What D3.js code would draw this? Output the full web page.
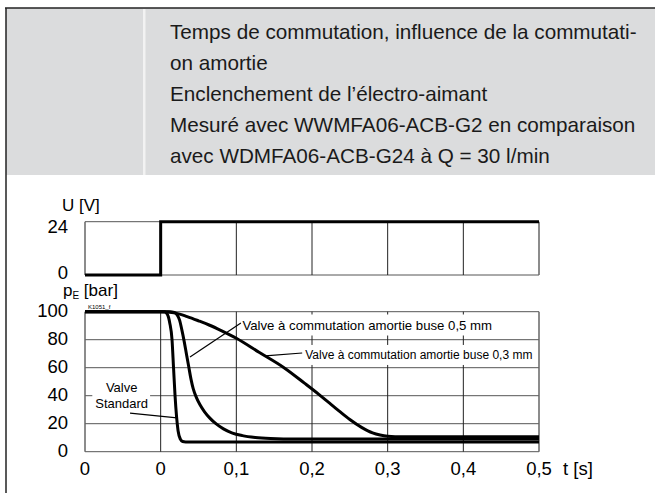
<!DOCTYPE html>
<html>
<head>
<meta charset="utf-8">
<script src="https://cdn.jsdelivr.net/npm/d3@7"></script>
<style>
  body { margin: 0; background: #fff; }
  svg { display: block; }
</style>
</head>
<body>
<div id="chart"></div>
<script>
// header text
const titleLines = [
    "Temps de commutation, influence de la commutati-",
    "on amortie",
    "Enclenchement de l\u2019électro-aimant",
    "Mesuré avec WWMFA06-ACB-G2 en comparaison",
    "avec WDMFA06-ACB-G24 à Q = 30 l/min"
];

// time axis (first "0" is the pre-trigger division)
const tTicks = [-0.1, 0, 0.1, 0.2, 0.3, 0.4, 0.5];
const tLabels = ["0", "0", "0,1", "0,2", "0,3", "0,4", "0,5"];
const uTicks = [0, 24];
const pTicks = [0, 20, 40, 60, 80, 100];

// voltage step
const voltT = [-0.1, 0, 0, 0.5];
const voltU = [0, 0, 24, 24];

// pressure curves
const standardT = [-0.1, 0, 0.005, 0.009, 0.012, 0.015, 0.017, 0.019, 0.021, 0.023, 0.026, 0.029, 0.033, 0.5];
const standardP = [100, 100, 100, 98, 92, 80, 60, 40, 25, 15, 9, 7.3, 7, 7];

const buse05T = [-0.1, 0, 0.012, 0.018, 0.022, 0.025, 0.028, 0.031, 0.034, 0.037, 0.04, 0.043, 0.047, 0.052, 0.058, 0.065, 0.073, 0.083, 0.094, 0.108, 0.125, 0.145, 0.18, 0.5];
const buse05P = [100, 100, 100, 99.5, 97.5, 94, 87, 79, 70, 61, 52, 45, 39, 33.5, 28.5, 24, 20, 16.3, 13.5, 11.5, 10.2, 9.5, 9.1, 9];

const buse03T = [-0.1, 0, 0.01, 0.02, 0.035, 0.05, 0.064, 0.08, 0.1, 0.13, 0.163, 0.19, 0.209, 0.222, 0.236, 0.25, 0.266, 0.28, 0.29, 0.3, 0.32, 0.5];
const buse03P = [100, 100, 99.8, 99, 96.5, 93.5, 90.5, 86.5, 81, 71, 60, 49, 41, 35.2, 29, 23, 17.2, 13.4, 11.9, 11.1, 10.7, 10.6];

const width = 655;
const height = 493;

const svg = d3.select('#chart').append('svg')
    .attr('width', width)
    .attr('height', height);

// ---- header block ----
svg.append('rect').attr('x', 6).attr('y', 8).attr('width', width - 6).attr('height', 167)
    .attr('fill', '#dbdcdd');
svg.append('rect').attr('x', 143).attr('y', 9).attr('width', 2.5).attr('height', 166)
    .attr('fill', '#f2f2f2');
svg.append('line').attr('x1', 5).attr('x2', width).attr('y1', 8).attr('y2', 8)
    .attr('stroke', '#222').attr('stroke-width', 1.5);
svg.append('line').attr('x1', 6).attr('x2', 6).attr('y1', 8).attr('y2', height)
    .attr('stroke', '#222').attr('stroke-width', 1.5);

const head = svg.append('g').attr('transform', 'translate(170,0)');
const headText = head.selectAll('text')
    .data(titleLines)
    .enter().append('text')
    .attr('y', (_, i) => 39 + i * 31)
    .attr('font-family', '"Liberation Sans", Arial, sans-serif')
    .attr('font-size', 20.5)
    .attr('fill', '#1a1a1a')
    .text(d => d);
// squeeze to the width of the longest printed line
const longest = d3.max(headText.nodes(), n => n.getComputedTextLength());
head.attr('transform', 'translate(170,0) scale(' + (467 / longest) + ',1)');

// ---- scales ----
const x = d3.scaleLinear().domain([-0.1, 0.5]).range([85, 539]);
const yU = d3.scaleLinear().domain([0, 24]).range([275, 221.7]);
const yP = d3.scaleLinear().domain([0, 100]).range([451.7, 311.7]);

const font = '"Liberation Sans", Arial, sans-serif';

function grid(g, yScale, hTicks) {
    // horizontal lines
    g.append('g').selectAll('line')
        .data(hTicks)
        .enter().append('line')
        .attr('x1', x(-0.1)).attr('x2', x(0.5))
        .attr('y1', d => yScale(d)).attr('y2', d => yScale(d))
        .attr('stroke', '#555').attr('stroke-width', 1);
    // vertical lines
    g.append('g').selectAll('line')
        .data(tTicks)
        .enter().append('line')
        .attr('x1', d => x(d)).attr('x2', d => x(d))
        .attr('y1', yScale.range()[0]).attr('y2', yScale.range()[1])
        .attr('stroke', (d, i) => (i === 0 || i === tTicks.length - 1) ? '#666' : '#222')
        .attr('stroke-width', (d, i) => (i === 0 || i === tTicks.length - 1) ? 1.5 : 1);
}

// ---- voltage panel ----
const gU = svg.append('g');
grid(gU, yU, uTicks);

gU.selectAll('text.ylab')
    .data(uTicks)
    .enter().append('text')
    .attr('class', 'ylab')
    .attr('x', 68)
    .attr('y', d => yU(d) + (d === 0 ? 3.5 : 11.5))
    .attr('text-anchor', 'end')
    .attr('font-family', font).attr('font-size', 18.5)
    .text(d => d);

svg.append('text').attr('x', 62).attr('y', 211)
    .attr('font-family', font).attr('font-size', 17)
    .text('U [V]');

const line = d3.line().x(d => x(d[0]));

svg.append('path')
    .datum(d3.zip(voltT, voltU))
    .attr('d', line.y(d => yU(d[1])))
    .attr('fill', 'none').attr('stroke', '#000').attr('stroke-width', 3);

// ---- pressure panel ----
const gP = svg.append('g');
grid(gP, yP, pTicks);

gP.selectAll('text.ylab')
    .data(pTicks)
    .enter().append('text')
    .attr('class', 'ylab')
    .attr('x', 68)
    .attr('y', d => yP(d) + 5.5)
    .attr('text-anchor', 'end')
    .attr('font-family', font).attr('font-size', 18.5)
    .text(d => d);

const pLab = svg.append('text').attr('x', 63).attr('y', 296)
    .attr('font-family', font).attr('font-size', 17);
pLab.append('tspan').text('p');
pLab.append('tspan').attr('font-size', 10).attr('dy', 3).text('E');
pLab.append('tspan').attr('dy', -3).text(' [bar]');

svg.append('text').attr('x', 88).attr('y', 308.5)
    .attr('font-family', font).attr('font-size', 6)
    .text('K1051_f');

// x axis labels
svg.append('g').selectAll('text')
    .data(tTicks)
    .enter().append('text')
    .attr('x', d => x(d))
    .attr('y', 475)
    .attr('text-anchor', 'middle')
    .attr('font-family', font).attr('font-size', 18.5)
    .text((_, i) => tLabels[i]);

svg.append('text').attr('x', 563).attr('y', 475)
    .attr('font-family', font).attr('font-size', 18.5)
    .text('t [s]');

// curve annotations: text lines, text anchor point (t, p), leader from / to, size
const notes = [
    { lines: ['Valve à commutation amortie buse 0,5 mm'], at: [0.108, 90.5], from: [0.0388, 67.6], to: [0.106, 91.9], anchor: 'start', size: 13.2 },
    { lines: ['Valve à commutation amortie buse 0,3 mm'], at: [0.191, 69.1], from: [0.138, 68.4], to: [0.187, 70.5], anchor: 'start', size: 12 },
    { lines: ['Valve', 'Standard'], at: [-0.0515, 46], from: [-0.0405, 27.6], to: [0.0216, 24.1], anchor: 'middle', size: 13 }
];

// white boxes behind the annotation text
const noteG = svg.append('g');
const noteTexts = notes.map(n => {
    const t = noteG.append('text')
        .attr('x', x(n.at[0]))
        .attr('y', yP(n.at[1]))
        .attr('text-anchor', n.anchor)
        .attr('font-family', font).attr('font-size', n.size)
        .attr('dominant-baseline', 'central');
    t.selectAll('tspan')
        .data(n.lines)
        .enter().append('tspan')
        .attr('x', x(n.at[0]))
        .attr('dy', (_, i) => i === 0 ? 0 : 16)
        .text(d => d);
    return t;
});
noteTexts.forEach(t => {
    const b = t.node().getBBox();
    noteG.insert('rect', 'text')
        .attr('x', b.x - 3).attr('y', b.y - 3)
        .attr('width', b.width + 5).attr('height', b.height + 6)
        .attr('fill', '#fff');
});

// curves
const curveLine = d3.line()
    .x(d => x(d[0]))
    .y(d => yP(d[1]))
    .curve(d3.curveMonotoneX);

const series = [
    d3.zip(standardT, standardP),
    d3.zip(buse05T, buse05P),
    d3.zip(buse03T, buse03P)
];

svg.append('g').selectAll('path')
    .data(series)
    .enter().append('path')
    .attr('d', curveLine)
    .attr('fill', 'none')
    .attr('stroke', '#000')
    .attr('stroke-width', 3)
    .attr('stroke-linejoin', 'round');

// leader lines
svg.append('g').selectAll('line')
    .data(notes)
    .enter().append('line')
    .attr('x1', d => x(d.from[0])).attr('y1', d => yP(d.from[1]))
    .attr('x2', d => x(d.to[0])).attr('y2', d => yP(d.to[1]))
    .attr('stroke', '#000').attr('stroke-width', 1.2);

// text above everything
noteTexts.forEach(t => noteG.node().appendChild(t.node()));
</script>
</body>
</html>
